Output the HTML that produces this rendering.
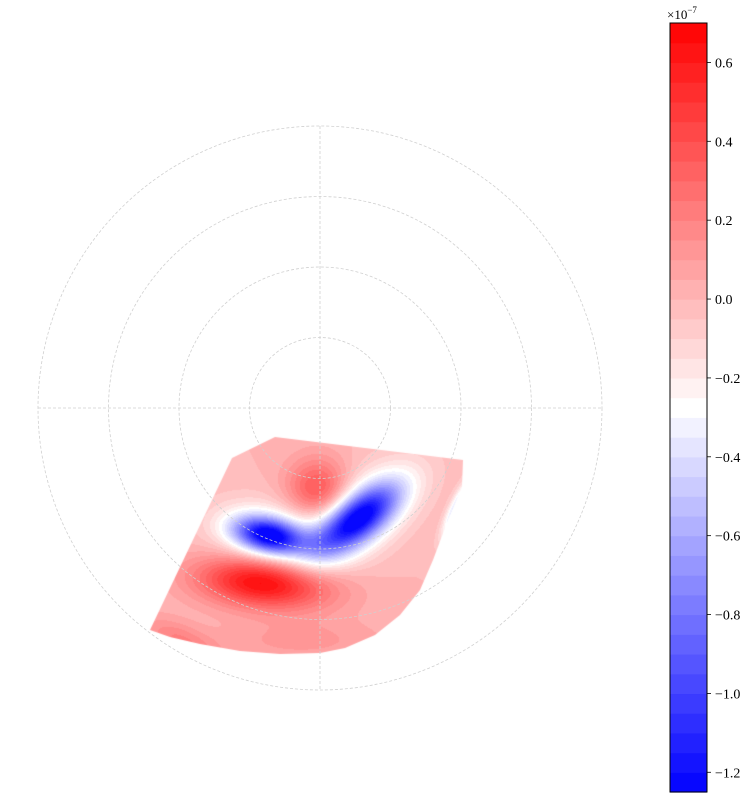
<!DOCTYPE html>
<html><head><meta charset="utf-8">
<style>
html,body{margin:0;padding:0;background:#fff;width:755px;height:803px;overflow:hidden;}
#wrap{position:relative;width:755px;height:803px;font-family:"Liberation Serif",serif;}
canvas,svg{position:absolute;left:0;top:0;}
</style></head>
<body>
<div id="wrap">
<canvas id="field" width="755" height="803"></canvas>
<svg id="ov" width="755" height="803"></svg>
</div>
<script>
// colorbar / levels
const vMin = -1.25, vMax = 0.7, levelStep = 0.05;
const tickValues = [0.6, 0.4, 0.2, 0.0, -0.2, -0.4, -0.6, -0.8, -1.0, -1.2];
const tickLabels = ["0.6","0.4","0.2","0.0","\u22120.2","\u22120.4","\u22120.6","\u22120.8","\u22121.0","\u22121.2"];
// field blobs (image coords, amplitude x1e-7)
const blobX   = [318, 268, 358, 268, 355, 265, 180, 300, 456, 318];
const blobY   = [490, 535, 518, 535, 518, 582, 640, 640, 508, 545];
const blobAmp = [0.42, -1.05, -1.05, -0.32, -0.32, 0.72, 0.2, 0.12, -0.45, -0.05];
const blobSx  = [22, 24, 34, 40, 52, 46, 30, 60, 5, 12];
const blobSy  = [22, 12, 15, 23, 26, 18, 12, 15, 22, 10];
const blobRot = [0, 12, -38, 12, -38, 5, 25, 0, 25, 0];
const baseValue = 0.0;

const cx = 320, cy = 408, R = 282;
const ringRadii = [70.5, 141, 211.5, 282];
const cbX = 670, cbY = 23, cbW = 37, cbH = 769;

function norm(v){return (v - vMin)/(vMax - vMin);}
function color(v){
  const t = Math.max(0, Math.min(1, norm(v)));
  let r,g,b;
  if (t < 0.5){ r = g = Math.round(2*t*255); b = 255; }
  else { r = 255; g = b = Math.round(2*(1-t)*255); }
  return [r,g,b];
}
function bandColor(v){
  let k = Math.floor((v - vMin)/levelStep);
  k = Math.max(0, Math.min(Math.round((vMax-vMin)/levelStep)-1, k));
  return color(vMin + (k+0.5)*levelStep);
}
function field(x,y){
  let v = baseValue;
  for (let i=0;i<blobX.length;i++){
    const a = blobRot[i]*Math.PI/180;
    const dx = x-blobX[i], dy = y-blobY[i];
    const u = dx*Math.cos(a)+dy*Math.sin(a), w = -dx*Math.sin(a)+dy*Math.cos(a);
    v += blobAmp[i]*Math.exp(-(u*u)/(2*blobSx[i]*blobSx[i]) - (w*w)/(2*blobSy[i]*blobSy[i]));
  }
  return v;
}
const cv = document.getElementById('field');
const ctx = cv.getContext('2d');
ctx.beginPath();
const wedge = [[150,630],[232,458],[275,437],[463,460],[462,487],[448,520],[433,560],
  [420,590],[400,615],[375,635],[345,648],[320,653],[280,654],[240,651],[200,644],[170,637]];
wedge.forEach((p,i)=> i?ctx.lineTo(p[0],p[1]):ctx.moveTo(p[0],p[1]));
ctx.closePath();
ctx.save(); ctx.clip();
const img = ctx.createImageData(755,803);
for (let y=430;y<660;y++) for (let x=145;x<470;x++){
  const c = bandColor(field(x,y));
  const o = (y*755+x)*4;
  img.data[o]=c[0]; img.data[o+1]=c[1]; img.data[o+2]=c[2]; img.data[o+3]=255;
}
const tmp = document.createElement('canvas'); tmp.width=755; tmp.height=803;
tmp.getContext('2d').putImageData(img,0,0);
ctx.drawImage(tmp,0,0);
ctx.restore();

const NS = 'http://www.w3.org/2000/svg';
const svg = document.getElementById('ov');
function mk(tag, attrs){ const e=document.createElementNS(NS,tag); for(const k in attrs) e.setAttribute(k,attrs[k]); svg.appendChild(e); return e; }
ringRadii.forEach(r=>{
  const c = mk('circle',{cx:cx,cy:cy,r:r,fill:'none',stroke:'#d0d0d0','stroke-width':0.8,'stroke-dasharray':'3,2'});
  
  
});
[[cx-R,cy,cx+R,cy],[cx,cy-R,cx,cy+R]].forEach(l=>{
  const e = mk('line',{x1:l[0],y1:l[1],x2:l[2],y2:l[3],stroke:'#d0d0d0','stroke-width':0.8,'stroke-dasharray':'3,2'});
  
  
});
const nBands = Math.round((vMax-vMin)/levelStep);
function cbYof(v){ return cbY + cbH*(1-norm(v)); }
for (let k=0;k<nBands;k++){
  const lo = vMin + k*levelStep, hi = lo + levelStep;
  const c = color(lo + levelStep/2);
  const r = mk('rect',{x:cbX,y:cbYof(hi),width:cbW,height:cbYof(lo)-cbYof(hi)+0.6,fill:`rgb(${c[0]},${c[1]},${c[2]})`});
  
  
}
const frame = mk('rect',{x:cbX,y:cbY,width:cbW,height:cbH,fill:'none',stroke:'#000','stroke-width':1});


tickValues.forEach((v,i)=>{
  const y = cbYof(v);
  const t = mk('line',{x1:cbX+cbW,y1:y,x2:cbX+cbW+4,y2:y,stroke:'#000','stroke-width':0.8});
  
  
  const tx = mk('text',{x:cbX+cbW+8,y:y+5,'font-size':14,'font-family':'"Liberation Serif", serif',fill:'#000'});
  tx.textContent = tickLabels[i];
  
  
});
const ex = mk('text',{x:667,y:19,'font-size':13,'font-family':'"Liberation Serif", serif',fill:'#000'});
ex.innerHTML = '\u00d710<tspan dy="-6" font-size="9">\u22127</tspan>';


</script>
</body></html>
